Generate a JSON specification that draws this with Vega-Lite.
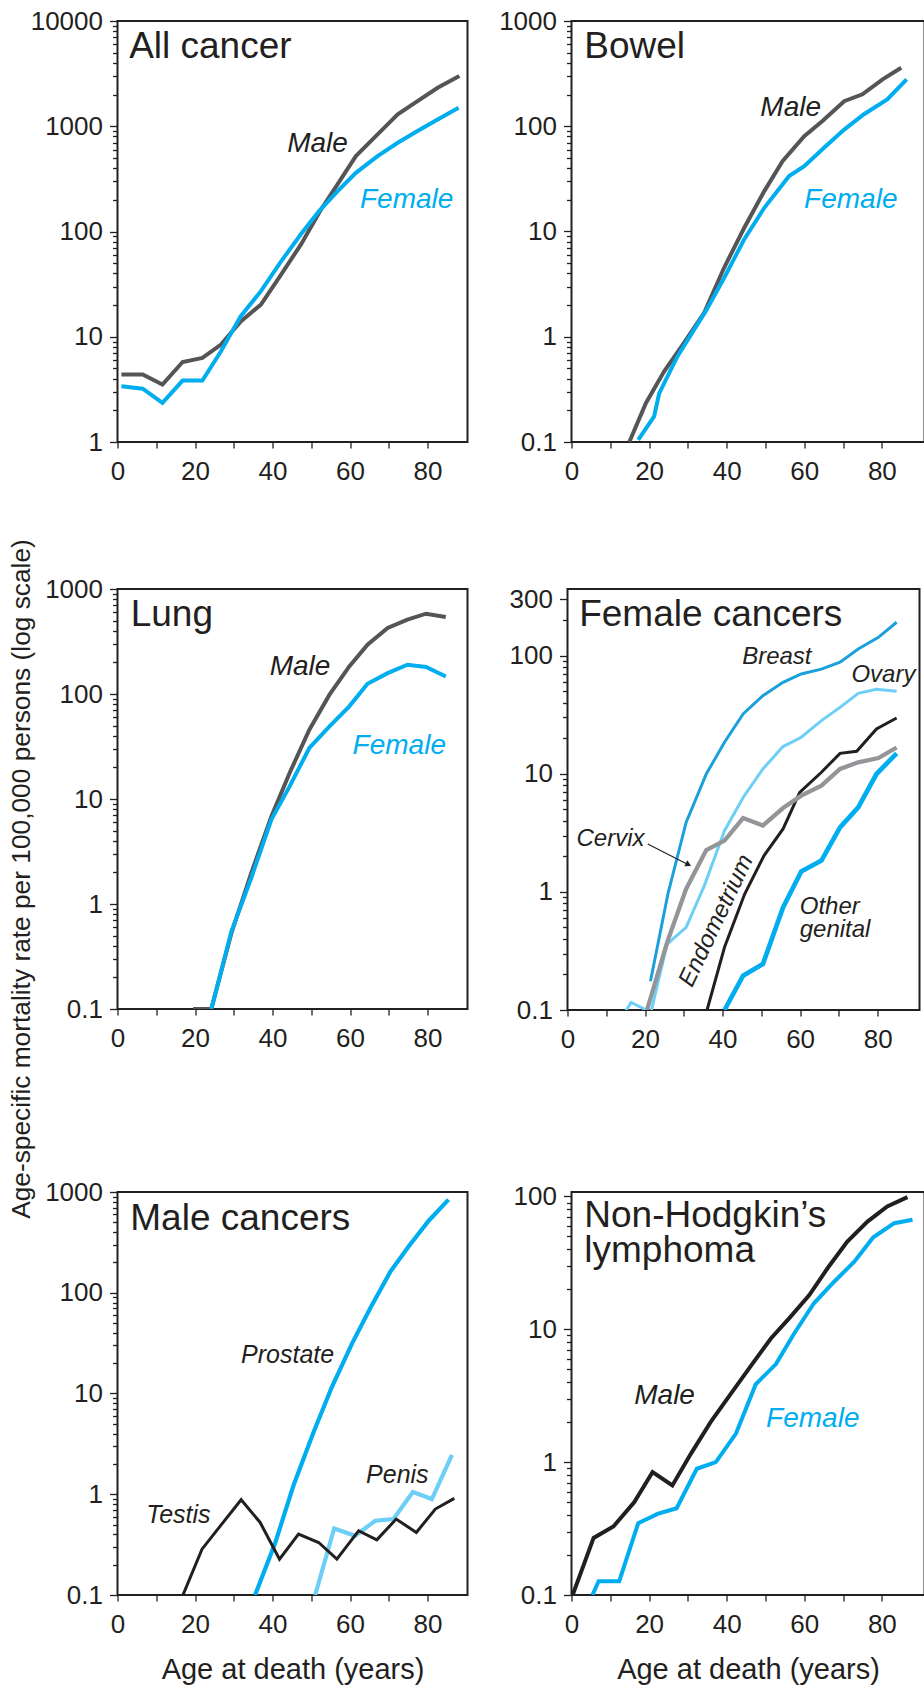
{
  "$schema": "https://vega.github.io/schema/vega-lite/v6.json",
  "padding": {"left": 8.5, "top": 7, "right": 0, "bottom": 8},
  "background": "white",
  "title": {"text": "Age-specific mortality rate per 100,000 persons (log scale)", "orient": "left", "anchor": "middle", "offset": -6, "dx": -33, "fontSize": 26.3, "fontWeight": "normal", "font": "Liberation Sans", "color": "#231f20"},
  "datasets": {
    "allCancer": [
      {"series":"Male","age":1,"rate":4.37},{"series":"Male","age":6.5,"rate":4.37},{"series":"Male","age":11.6,"rate":3.51},{"series":"Male","age":16.8,"rate":5.76},{"series":"Male","age":21.9,"rate":6.29},{"series":"Male","age":26.7,"rate":8.42},{"series":"Male","age":31.8,"rate":14},{"series":"Male","age":37,"rate":20.2},{"series":"Male","age":42.2,"rate":39},{"series":"Male","age":47.3,"rate":75},{"series":"Male","age":52.5,"rate":162},{"series":"Male","age":56.8,"rate":282},{"series":"Male","age":61.5,"rate":520},{"series":"Male","age":67.1,"rate":836},{"series":"Male","age":72.3,"rate":1296},{"series":"Male","age":77.4,"rate":1735},{"series":"Male","age":82.6,"rate":2323},{"series":"Male","age":88.2,"rate":3000},
      {"series":"Female","age":1,"rate":3.38},{"series":"Female","age":6.5,"rate":3.21},{"series":"Female","age":11.6,"rate":2.35},{"series":"Female","age":16.8,"rate":3.83},{"series":"Female","age":21.9,"rate":3.83},{"series":"Female","age":26.7,"rate":7.28},{"series":"Female","age":31.8,"rate":15.7},{"series":"Female","age":37,"rate":27.1},{"series":"Female","age":42.2,"rate":52},{"series":"Female","age":47.3,"rate":94},{"series":"Female","age":52,"rate":156},{"series":"Female","age":56.8,"rate":242},{"series":"Female","age":61.5,"rate":361},{"series":"Female","age":67.1,"rate":520},{"series":"Female","age":72.3,"rate":697},{"series":"Female","age":77.4,"rate":900},{"series":"Female","age":82.6,"rate":1161},{"series":"Female","age":88,"rate":1500}
    ],
    "bowel": [
      {"series":"Male","age":14.9,"rate":0.1},{"series":"Male","age":19.2,"rate":0.235},{"series":"Male","age":23.9,"rate":0.47},{"series":"Male","age":29,"rate":0.874},{"series":"Male","age":34.2,"rate":1.69},{"series":"Male","age":39.3,"rate":4.5},{"series":"Male","age":44.5,"rate":10.8},{"series":"Male","age":49.7,"rate":24.2},{"series":"Male","age":54.4,"rate":46.6},{"series":"Male","age":60,"rate":80.6},{"series":"Male","age":64.7,"rate":112},{"series":"Male","age":70.3,"rate":173},{"series":"Male","age":75,"rate":201},{"series":"Male","age":80.2,"rate":279},{"series":"Male","age":85,"rate":360},
      {"series":"Female","age":17.2,"rate":0.105},{"series":"Female","age":21.3,"rate":0.175},{"series":"Female","age":22.6,"rate":0.29},{"series":"Female","age":27.3,"rate":0.65},{"series":"Female","age":34.6,"rate":1.75},{"series":"Female","age":39.3,"rate":3.6},{"series":"Female","age":44.5,"rate":8.4},{"series":"Female","age":49.7,"rate":16.8},{"series":"Female","age":56.1,"rate":33.6},{"series":"Female","age":60,"rate":41.8},{"series":"Female","age":65.1,"rate":62.5},{"series":"Female","age":70.3,"rate":93},{"series":"Female","age":75.4,"rate":130},{"series":"Female","age":81.4,"rate":180},{"series":"Female","age":86.4,"rate":279}
    ],
    "lung": [
      {"series":"Male","age":19.5,"rate":0.1},{"series":"Male","age":24.2,"rate":0.1},{"series":"Male","age":29.4,"rate":0.53},{"series":"Male","age":34.5,"rate":1.97},{"series":"Male","age":39.7,"rate":6.8},{"series":"Male","age":44.4,"rate":17.7},{"series":"Male","age":49.5,"rate":45.7},{"series":"Male","age":54.7,"rate":98.6},{"series":"Male","age":59.8,"rate":183},{"series":"Male","age":64.5,"rate":295},{"series":"Male","age":69.7,"rate":425},{"series":"Male","age":74.8,"rate":510},{"series":"Male","age":79.6,"rate":582},{"series":"Male","age":84.7,"rate":541},
      {"series":"Female","age":24.2,"rate":0.1},{"series":"Female","age":29.4,"rate":0.55},{"series":"Female","age":34.5,"rate":1.77},{"series":"Female","age":39.7,"rate":6.36},{"series":"Female","age":44.4,"rate":13.2},{"series":"Female","age":49.5,"rate":30.6},{"series":"Female","age":54.7,"rate":49.2},{"series":"Female","age":59.8,"rate":76.3},{"series":"Female","age":64.5,"rate":125},{"series":"Female","age":69.7,"rate":158},{"series":"Female","age":74.8,"rate":190},{"series":"Female","age":79.6,"rate":181},{"series":"Female","age":84.7,"rate":147}
    ],
    "femaleCancers": [
      {"series":"Breast","age":21.4,"rate":0.175},{"series":"Breast","age":25.9,"rate":0.96},{"series":"Breast","age":30.6,"rate":3.88},{"series":"Breast","age":35.8,"rate":9.96},{"series":"Breast","age":40.5,"rate":18.5},{"series":"Breast","age":45.3,"rate":32.1},{"series":"Breast","age":50.4,"rate":45.9},{"series":"Breast","age":55.6,"rate":59.5},{"series":"Breast","age":60.3,"rate":70},{"series":"Breast","age":65.5,"rate":77},{"series":"Breast","age":70.3,"rate":88},{"series":"Breast","age":75,"rate":114},{"series":"Breast","age":80.2,"rate":143},{"series":"Breast","age":84.9,"rate":192},
      {"series":"Ovary","age":14.5,"rate":0.092},{"series":"Ovary","age":16.4,"rate":0.116},{"series":"Ovary","age":19.8,"rate":0.102},{"series":"Ovary","age":21.4,"rate":0.092},{"series":"Ovary","age":25.7,"rate":0.362},{"series":"Ovary","age":30.6,"rate":0.5},{"series":"Ovary","age":35.3,"rate":1.13},{"series":"Ovary","age":40.5,"rate":3.3},{"series":"Ovary","age":45.3,"rate":6.3},{"series":"Ovary","age":50.4,"rate":11},{"series":"Ovary","age":55.6,"rate":17},{"series":"Ovary","age":60.3,"rate":20.4},{"series":"Ovary","age":65.5,"rate":28.2},{"series":"Ovary","age":70.3,"rate":36.5},{"series":"Ovary","age":75,"rate":48},{"series":"Ovary","age":79.7,"rate":52},{"series":"Ovary","age":84.9,"rate":50},
      {"series":"Cervix","age":20.5,"rate":0.1},{"series":"Cervix","age":25.7,"rate":0.374},{"series":"Cervix","age":30.6,"rate":1.06},{"series":"Cervix","age":35.8,"rate":2.26},{"series":"Cervix","age":40.5,"rate":2.72},{"series":"Cervix","age":45.3,"rate":4.22},{"series":"Cervix","age":50.4,"rate":3.64},{"series":"Cervix","age":55.6,"rate":5.13},{"series":"Cervix","age":60.3,"rate":6.53},{"series":"Cervix","age":65.5,"rate":7.94},{"series":"Cervix","age":70.3,"rate":11},{"series":"Cervix","age":75,"rate":12.5},{"series":"Cervix","age":80.2,"rate":13.6},{"series":"Cervix","age":84.9,"rate":16.7},
      {"series":"Endometrium","age":36,"rate":0.1},{"series":"Endometrium","age":40.5,"rate":0.34},{"series":"Endometrium","age":45.7,"rate":0.96},{"series":"Endometrium","age":50.7,"rate":2.03},{"series":"Endometrium","age":55.6,"rate":3.41},{"series":"Endometrium","age":59.9,"rate":6.97},{"series":"Endometrium","age":65.5,"rate":10.3},{"series":"Endometrium","age":70.3,"rate":14.9},{"series":"Endometrium","age":74.6,"rate":15.5},{"series":"Endometrium","age":79.7,"rate":24},{"series":"Endometrium","age":84.9,"rate":29.7},
      {"series":"Other genital","age":40.5,"rate":0.1},{"series":"Other genital","age":45.3,"rate":0.195},{"series":"Other genital","age":50.4,"rate":0.245},{"series":"Other genital","age":55.6,"rate":0.74},{"series":"Other genital","age":60.3,"rate":1.49},{"series":"Other genital","age":65.5,"rate":1.84},{"series":"Other genital","age":70.3,"rate":3.52},{"series":"Other genital","age":75,"rate":5.2},{"series":"Other genital","age":79.7,"rate":9.96},{"series":"Other genital","age":84.9,"rate":14.9}
    ],
    "maleCancers": [
      {"series":"Prostate","age":35.5,"rate":0.1},{"series":"Prostate","age":40.7,"rate":0.33},{"series":"Prostate","age":45.4,"rate":1.22},{"series":"Prostate","age":50.6,"rate":4.14},{"series":"Prostate","age":55.3,"rate":11.6},{"series":"Prostate","age":60.5,"rate":31.3},{"series":"Prostate","age":65.2,"rate":70},{"series":"Prostate","age":70.4,"rate":162},{"series":"Prostate","age":75.1,"rate":288},{"series":"Prostate","age":80.3,"rate":519},{"series":"Prostate","age":85.4,"rate":839},
      {"series":"Penis","age":51,"rate":0.1},{"series":"Penis","age":55.9,"rate":0.458},{"series":"Penis","age":61.3,"rate":0.387},{"series":"Penis","age":66.5,"rate":0.546},{"series":"Penis","age":71.2,"rate":0.567},{"series":"Penis","age":76.2,"rate":1.05},{"series":"Penis","age":81.1,"rate":0.897},{"series":"Penis","age":86.3,"rate":2.46},
      {"series":"Testis","age":16.6,"rate":0.094},{"series":"Testis","age":21.8,"rate":0.285},{"series":"Testis","age":26.9,"rate":0.505},{"series":"Testis","age":31.9,"rate":0.883},{"series":"Testis","age":36.8,"rate":0.525},{"series":"Testis","age":41.8,"rate":0.227},{"series":"Testis","age":46.7,"rate":0.402},{"series":"Testis","age":51.9,"rate":0.332},{"series":"Testis","age":56.6,"rate":0.227},{"series":"Testis","age":62.2,"rate":0.434},{"series":"Testis","age":66.9,"rate":0.353},{"series":"Testis","age":71.9,"rate":0.567},{"series":"Testis","age":77.1,"rate":0.418},{"series":"Testis","age":82,"rate":0.713},{"series":"Testis","age":86.9,"rate":0.91}
    ],
    "nhl": [
      {"series":"Male","age":0.3,"rate":0.1},{"series":"Male","age":5.7,"rate":0.269},{"series":"Male","age":10.8,"rate":0.328},{"series":"Male","age":16.2,"rate":0.5},{"series":"Male","age":20.9,"rate":0.842},{"series":"Male","age":26,"rate":0.668},{"series":"Male","age":30.8,"rate":1.16},{"series":"Male","age":35.9,"rate":2.01},{"series":"Male","age":41.1,"rate":3.28},{"series":"Male","age":46.2,"rate":5.28},{"series":"Male","age":51.4,"rate":8.53},{"series":"Male","age":56.1,"rate":12.1},{"series":"Male","age":61.3,"rate":18.1},{"series":"Male","age":66,"rate":28.8},{"series":"Male","age":71.1,"rate":45.7},{"series":"Male","age":76.3,"rate":64.7},{"series":"Male","age":81.4,"rate":84},{"series":"Male","age":86.6,"rate":98.8},
      {"series":"Female","age":5.4,"rate":0.1},{"series":"Female","age":7,"rate":0.127},{"series":"Female","age":12.3,"rate":0.127},{"series":"Female","age":17.2,"rate":0.347},{"series":"Female","age":22.2,"rate":0.408},{"series":"Female","age":27.1,"rate":0.45},{"series":"Female","age":32.3,"rate":0.892},{"series":"Female","age":37.2,"rate":1.0},{"series":"Female","age":42.4,"rate":1.64},{"series":"Female","age":47.5,"rate":3.86},{"series":"Female","age":52.7,"rate":5.47},{"series":"Female","age":57.4,"rate":9.3},{"series":"Female","age":62.5,"rate":15.7},{"series":"Female","age":67.7,"rate":22.8},{"series":"Female","age":72.9,"rate":32.3},{"series":"Female","age":77.8,"rate":49.3},{"series":"Female","age":83.2,"rate":62.9},{"series":"Female","age":87.9,"rate":66.7}
    ]
  },
  "spacing": 125,
  "resolve": {"scale": {"color": "independent"}},
  "vconcat": [
    {
      "spacing": 90,
      "resolve": {"scale": {"color": "independent"}},
      "vconcat": [
        {
          "spacing": 29,
          "resolve": {"scale": {"color": "independent"}},
          "hconcat": [
            {
              "width": 350, "height": 421,
              "layer": [
                {"data": {"name": "allCancer"}, "mark": {"type": "line", "clip": true, "strokeWidth": 4},
                 "encoding": {
                   "x": {"field": "age", "type": "quantitative", "scale": {"domain": [0, 90.3], "nice": false, "zero": false}, "axis": {"values": [0,10,20,30,40,50,60,70,80], "labelExpr": "datum.value % 20 === 0 ? datum.label : ''", "title": null}},
                   "y": {"field": "rate", "type": "quantitative", "scale": {"type": "log", "domain": [1, 10000], "nice": false}, "axis": {"orient": "left", "values": [1,10,100,1000,10000], "format": "~g", "title": null}},
                   "color": {"field": "series", "type": "nominal", "scale": {"domain": ["Male","Female"], "range": ["#555557","#00aeef"]}, "legend": null}
                 }},
                {"data": {"values": [{}]}, "mark": {"type": "text", "align": "left", "baseline": "alphabetic", "fontSize": 37},
                 "encoding": {"x": {"datum": 3, "type": "quantitative", "axis": null}, "y": {"datum": 4480, "type": "quantitative", "axis": {"orient": "left", "values": [2,3,4,5,6,7,8,9,20,30,40,50,60,70,80,90,200,300,400,500,600,700,800,900,2000,3000,4000,5000,6000,7000,8000,9000], "labels": false, "tickSize": 5, "title": null}}, "text": {"value": "All cancer"}}},
                {"data": {"values": [{}]}, "mark": {"type": "text", "align": "center", "baseline": "alphabetic", "fontSize": 28, "fontStyle": "italic"},
                 "encoding": {"x": {"datum": 51.6, "type": "quantitative", "axis": null}, "y": {"datum": 572, "type": "quantitative", "axis": null}, "text": {"value": "Male"}}},
                {"data": {"values": [{}]}, "mark": {"type": "text", "align": "center", "baseline": "alphabetic", "fontSize": 28, "fontStyle": "italic", "color": "#00aeef"},
                 "encoding": {"x": {"datum": 74.6, "type": "quantitative", "axis": null}, "y": {"datum": 168, "type": "quantitative", "axis": null}, "text": {"value": "Female"}}}
              ],
              "resolve": {"axis": {"x": "independent", "y": "independent"}}
            },
            {
              "width": 353, "height": 421,
              "layer": [
                {"data": {"name": "bowel"}, "mark": {"type": "line", "clip": true, "strokeWidth": 4},
                 "encoding": {
                   "x": {"field": "age", "type": "quantitative", "scale": {"domain": [0, 91], "nice": false, "zero": false}, "axis": {"values": [0,10,20,30,40,50,60,70,80], "labelExpr": "datum.value % 20 === 0 ? datum.label : ''", "title": null}},
                   "y": {"field": "rate", "type": "quantitative", "scale": {"type": "log", "domain": [0.1, 1000], "nice": false}, "axis": {"orient": "left", "values": [0.1,1,10,100,1000], "format": "~g", "title": null}},
                   "color": {"field": "series", "type": "nominal", "scale": {"domain": ["Male","Female"], "range": ["#555557","#00aeef"]}, "legend": null}
                 }},
                {"data": {"values": [{}]}, "mark": {"type": "text", "align": "left", "baseline": "alphabetic", "fontSize": 37},
                 "encoding": {"x": {"datum": 3.3, "type": "quantitative", "axis": null}, "y": {"datum": 448, "type": "quantitative", "axis": {"orient": "left", "values": [0.2,0.3,0.4,0.5,0.6,0.7,0.8,0.9,2,3,4,5,6,7,8,9,20,30,40,50,60,70,80,90,200,300,400,500,600,700,800,900], "labels": false, "tickSize": 5, "title": null}}, "text": {"value": "Bowel"}}},
                {"data": {"values": [{}]}, "mark": {"type": "text", "align": "center", "baseline": "alphabetic", "fontSize": 28, "fontStyle": "italic"},
                 "encoding": {"x": {"datum": 56.5, "type": "quantitative", "axis": null}, "y": {"datum": 125, "type": "quantitative", "axis": null}, "text": {"value": "Male"}}},
                {"data": {"values": [{}]}, "mark": {"type": "text", "align": "center", "baseline": "alphabetic", "fontSize": 28, "fontStyle": "italic", "color": "#00aeef"},
                 "encoding": {"x": {"datum": 72, "type": "quantitative", "axis": null}, "y": {"datum": 16.8, "type": "quantitative", "axis": null}, "text": {"value": "Female"}}}
              ],
              "resolve": {"axis": {"x": "independent", "y": "independent"}}
            }
          ]
        },
        {
          "spacing": 39,
          "resolve": {"scale": {"color": "independent"}},
          "hconcat": [
            {
              "width": 350, "height": 420,
              "layer": [
                {"data": {"name": "lung"}, "mark": {"type": "line", "clip": true, "strokeWidth": 4},
                 "encoding": {
                   "x": {"field": "age", "type": "quantitative", "scale": {"domain": [0, 90.3], "nice": false, "zero": false}, "axis": {"values": [0,10,20,30,40,50,60,70,80], "labelExpr": "datum.value % 20 === 0 ? datum.label : ''", "title": null}},
                   "y": {"field": "rate", "type": "quantitative", "scale": {"type": "log", "domain": [0.1, 1000], "nice": false}, "axis": {"orient": "left", "values": [0.1,1,10,100,1000], "format": "~g", "title": null}},
                   "color": {"field": "series", "type": "nominal", "scale": {"domain": ["Male","Female"], "range": ["#555557","#00aeef"]}, "legend": null}
                 }},
                {"data": {"values": [{}]}, "mark": {"type": "text", "align": "left", "baseline": "alphabetic", "fontSize": 37},
                 "encoding": {"x": {"datum": 3.4, "type": "quantitative", "axis": null}, "y": {"datum": 441, "type": "quantitative", "axis": {"orient": "left", "values": [0.2,0.3,0.4,0.5,0.6,0.7,0.8,0.9,2,3,4,5,6,7,8,9,20,30,40,50,60,70,80,90,200,300,400,500,600,700,800,900], "labels": false, "tickSize": 5, "title": null}}, "text": {"value": "Lung"}}},
                {"data": {"values": [{}]}, "mark": {"type": "text", "align": "center", "baseline": "alphabetic", "fontSize": 28, "fontStyle": "italic"},
                 "encoding": {"x": {"datum": 47.1, "type": "quantitative", "axis": null}, "y": {"datum": 153, "type": "quantitative", "axis": null}, "text": {"value": "Male"}}},
                {"data": {"values": [{}]}, "mark": {"type": "text", "align": "center", "baseline": "alphabetic", "fontSize": 28, "fontStyle": "italic", "color": "#00aeef"},
                 "encoding": {"x": {"datum": 72.7, "type": "quantitative", "axis": null}, "y": {"datum": 26.8, "type": "quantitative", "axis": null}, "text": {"value": "Female"}}}
              ],
              "resolve": {"axis": {"x": "independent", "y": "independent"}}
            },
            {
              "width": 352, "height": 421,
              "layer": [
                {"data": {"name": "femaleCancers"}, "transform": [{"filter": {"field": "series", "oneOf": ["Breast","Ovary","Endometrium"]}}], "mark": {"type": "line", "clip": true, "strokeWidth": 3},
                 "encoding": {
                   "x": {"field": "age", "type": "quantitative", "scale": {"domain": [0, 90.8], "nice": false, "zero": false}, "axis": {"values": [0,10,20,30,40,50,60,70,80], "labelExpr": "datum.value % 20 === 0 ? datum.label : ''", "title": null}},
                   "y": {"field": "rate", "type": "quantitative", "scale": {"type": "log", "domain": [0.1, 367], "nice": false}, "axis": {"orient": "left", "values": [0.1,1,10,100,300], "format": "~g", "title": null}},
                   "color": {"field": "series", "type": "nominal", "scale": {"domain": ["Breast","Ovary","Cervix","Endometrium","Other genital"], "range": ["#1ba0dc","#6dcff6","#939598","#231f20","#00aeef"]}, "legend": null}
                 }},
                {"data": {"name": "femaleCancers"}, "transform": [{"filter": {"field": "series", "equal": "Cervix"}}], "mark": {"type": "line", "clip": true, "strokeWidth": 4.3},
                 "encoding": {
                   "x": {"field": "age", "type": "quantitative", "axis": null},
                   "y": {"field": "rate", "type": "quantitative", "axis": null},
                   "color": {"field": "series", "type": "nominal", "scale": {"domain": ["Breast","Ovary","Cervix","Endometrium","Other genital"], "range": ["#1ba0dc","#6dcff6","#939598","#231f20","#00aeef"]}, "legend": null}
                 }},
                {"data": {"name": "femaleCancers"}, "transform": [{"filter": {"field": "series", "equal": "Other genital"}}], "mark": {"type": "line", "clip": true, "strokeWidth": 4.7},
                 "encoding": {
                   "x": {"field": "age", "type": "quantitative", "axis": null},
                   "y": {"field": "rate", "type": "quantitative", "axis": null},
                   "color": {"field": "series", "type": "nominal", "scale": {"domain": ["Breast","Ovary","Cervix","Endometrium","Other genital"], "range": ["#1ba0dc","#6dcff6","#939598","#231f20","#00aeef"]}, "legend": null}
                 }},
                {"data": {"values": [{}]}, "mark": {"type": "text", "align": "left", "baseline": "alphabetic", "fontSize": 37},
                 "encoding": {"x": {"datum": 3, "type": "quantitative", "axis": null}, "y": {"datum": 180, "type": "quantitative", "axis": {"orient": "left", "values": [0.2,0.3,0.4,0.5,0.6,0.7,0.8,0.9,2,3,4,5,6,7,8,9,20,30,40,50,60,70,80,90,200], "labels": false, "tickSize": 5, "title": null}}, "text": {"value": "Female cancers"}}},
                {"data": {"values": [{}]}, "mark": {"type": "text", "align": "center", "baseline": "alphabetic", "fontSize": 24, "fontStyle": "italic"},
                 "encoding": {"x": {"datum": 54, "type": "quantitative", "axis": null}, "y": {"datum": 85, "type": "quantitative", "axis": null}, "text": {"value": "Breast"}}},
                {"data": {"values": [{}]}, "mark": {"type": "text", "align": "center", "baseline": "alphabetic", "fontSize": 24, "fontStyle": "italic"},
                 "encoding": {"x": {"datum": 81.5, "type": "quantitative", "axis": null}, "y": {"datum": 59.5, "type": "quantitative", "axis": null}, "text": {"value": "Ovary"}}},
                {"data": {"values": [{}]}, "mark": {"type": "text", "align": "center", "baseline": "alphabetic", "fontSize": 24, "fontStyle": "italic"},
                 "encoding": {"x": {"datum": 11.1, "type": "quantitative", "axis": null}, "y": {"datum": 2.46, "type": "quantitative", "axis": null}, "text": {"value": "Cervix"}}},
                {"data": {"values": [{}]}, "mark": {"type": "rule", "color": "#231f20", "strokeWidth": 1.2},
                 "encoding": {"x": {"datum": 20.7, "type": "quantitative", "axis": null}, "y": {"datum": 2.54, "type": "quantitative", "axis": null}, "x2": {"datum": 31.2}, "y2": {"datum": 1.7}}},
                {"data": {"values": [{}]}, "mark": {"type": "point", "shape": "triangle-right", "filled": true, "size": 45, "angle": 27, "color": "#231f20", "opacity": 1},
                 "encoding": {"x": {"datum": 31.2, "type": "quantitative", "axis": null}, "y": {"datum": 1.7, "type": "quantitative", "axis": null}}},
                {"data": {"values": [{}]}, "mark": {"type": "text", "align": "center", "baseline": "middle", "fontSize": 24, "fontStyle": "italic", "angle": -64.6},
                 "encoding": {"x": {"datum": 38.4, "type": "quantitative", "axis": null}, "y": {"datum": 0.57, "type": "quantitative", "axis": null}, "text": {"value": "Endometrium"}}},
                {"data": {"values": [{}]}, "mark": {"type": "text", "align": "left", "baseline": "alphabetic", "fontSize": 24, "fontStyle": "italic", "lineHeight": 23.5},
                 "encoding": {"x": {"datum": 59.9, "type": "quantitative", "axis": null}, "y": {"datum": 0.65, "type": "quantitative", "axis": null}, "text": {"value": ["Other", "genital"]}}}
              ],
              "resolve": {"axis": {"x": "independent", "y": "independent"}}
            }
          ]
        }
      ]
    },
    {
      "spacing": 43,
      "resolve": {"scale": {"color": "independent"}},
      "hconcat": [
        {
          "width": 350, "height": 403,
          "layer": [
            {"data": {"name": "maleCancers"}, "transform": [{"filter": {"field": "series", "oneOf": ["Prostate","Penis"]}}], "mark": {"type": "line", "clip": true, "strokeWidth": 4.2},
             "encoding": {
               "x": {"field": "age", "type": "quantitative", "scale": {"domain": [0, 90.3], "nice": false, "zero": false}, "axis": {"values": [0,10,20,30,40,50,60,70,80], "labelExpr": "datum.value % 20 === 0 ? datum.label : ''", "title": "Age at death (years)", "titlePadding": 18}},
               "y": {"field": "rate", "type": "quantitative", "scale": {"type": "log", "domain": [0.1, 1000], "nice": false}, "axis": {"orient": "left", "values": [0.1,1,10,100,1000], "format": "~g", "title": null}},
               "color": {"field": "series", "type": "nominal", "scale": {"domain": ["Prostate","Penis","Testis"], "range": ["#00aeef","#6dcff6","#231f20"]}, "legend": null}
             }},
            {"data": {"name": "maleCancers"}, "transform": [{"filter": {"field": "series", "equal": "Testis"}}], "mark": {"type": "line", "clip": true, "strokeWidth": 3},
             "encoding": {
               "x": {"field": "age", "type": "quantitative", "axis": null},
               "y": {"field": "rate", "type": "quantitative", "axis": null},
               "color": {"field": "series", "type": "nominal", "scale": {"domain": ["Prostate","Penis","Testis"], "range": ["#00aeef","#6dcff6","#231f20"]}, "legend": null}
             }},
            {"data": {"values": [{}]}, "mark": {"type": "text", "align": "left", "baseline": "alphabetic", "fontSize": 37},
             "encoding": {"x": {"datum": 3.3, "type": "quantitative", "axis": null}, "y": {"datum": 422, "type": "quantitative", "axis": {"orient": "left", "values": [0.2,0.3,0.4,0.5,0.6,0.7,0.8,0.9,2,3,4,5,6,7,8,9,20,30,40,50,60,70,80,90,200,300,400,500,600,700,800,900], "labels": false, "tickSize": 5, "title": null}}, "text": {"value": "Male cancers"}}},
            {"data": {"values": [{}]}, "mark": {"type": "text", "align": "center", "baseline": "alphabetic", "fontSize": 25, "fontStyle": "italic"},
             "encoding": {"x": {"datum": 43.9, "type": "quantitative", "axis": null}, "y": {"datum": 20.3, "type": "quantitative", "axis": null}, "text": {"value": "Prostate"}}},
            {"data": {"values": [{}]}, "mark": {"type": "text", "align": "center", "baseline": "alphabetic", "fontSize": 25, "fontStyle": "italic"},
             "encoding": {"x": {"datum": 72.2, "type": "quantitative", "axis": null}, "y": {"datum": 1.29, "type": "quantitative", "axis": null}, "text": {"value": "Penis"}}},
            {"data": {"values": [{}]}, "mark": {"type": "text", "align": "center", "baseline": "alphabetic", "fontSize": 25, "fontStyle": "italic"},
             "encoding": {"x": {"datum": 15.7, "type": "quantitative", "axis": null}, "y": {"datum": 0.517, "type": "quantitative", "axis": null}, "text": {"value": "Testis"}}}
          ],
          "resolve": {"axis": {"x": "independent", "y": "independent"}}
        },
        {
          "width": 353, "height": 403,
          "layer": [
            {"data": {"name": "nhl"}, "mark": {"type": "line", "clip": true, "strokeWidth": 4},
             "encoding": {
               "x": {"field": "age", "type": "quantitative", "scale": {"domain": [0, 91], "nice": false, "zero": false}, "axis": {"values": [0,10,20,30,40,50,60,70,80], "labelExpr": "datum.value % 20 === 0 ? datum.label : ''", "title": "Age at death (years)", "titlePadding": 18}},
               "y": {"field": "rate", "type": "quantitative", "scale": {"type": "log", "domain": [0.1, 108], "nice": false}, "axis": {"orient": "left", "values": [0.1,1,10,100], "format": "~g", "title": null}},
               "color": {"field": "series", "type": "nominal", "scale": {"domain": ["Male","Female"], "range": ["#231f20","#00aeef"]}, "legend": null}
             }},
            {"data": {"values": [{}]}, "mark": {"type": "text", "align": "left", "baseline": "alphabetic", "fontSize": 37, "lineHeight": 35},
             "encoding": {"x": {"datum": 3.3, "type": "quantitative", "axis": null}, "y": {"datum": 59.3, "type": "quantitative", "axis": {"orient": "left", "values": [0.2,0.3,0.4,0.5,0.6,0.7,0.8,0.9,2,3,4,5,6,7,8,9,20,30,40,50,60,70,80,90], "labels": false, "tickSize": 5, "title": null}}, "text": {"value": ["Non-Hodgkin’s", "lymphoma"]}}},
            {"data": {"values": [{}]}, "mark": {"type": "text", "align": "center", "baseline": "alphabetic", "fontSize": 28, "fontStyle": "italic"},
             "encoding": {"x": {"datum": 24, "type": "quantitative", "axis": null}, "y": {"datum": 2.76, "type": "quantitative", "axis": null}, "text": {"value": "Male"}}},
            {"data": {"values": [{}]}, "mark": {"type": "text", "align": "center", "baseline": "alphabetic", "fontSize": 28, "fontStyle": "italic", "color": "#00aeef"},
             "encoding": {"x": {"datum": 62.2, "type": "quantitative", "axis": null}, "y": {"datum": 1.84, "type": "quantitative", "axis": null}, "text": {"value": "Female"}}}
          ],
          "resolve": {"axis": {"x": "independent", "y": "independent"}}
        }
      ]
    }
  ],
  "config": {
    "font": "Liberation Sans",
    "view": {"stroke": "#231f20", "strokeWidth": 2},
    "axis": {"domain": false, "grid": false, "labelFont": "Liberation Sans", "labelFontSize": 26, "labelColor": "#231f20", "tickColor": "#231f20", "tickWidth": 1.3, "labelFlush": false, "labelOverlap": false, "titleFont": "Liberation Sans", "titleFontSize": 29, "titleFontWeight": "normal", "titleColor": "#231f20"},
    "axisX": {"tickSize": 6, "labelPadding": 10, "titlePadding": 14},
    "axisY": {"tickSize": 8, "labelPadding": 7},
    "text": {"font": "Liberation Sans", "color": "#231f20"}
  }
}
